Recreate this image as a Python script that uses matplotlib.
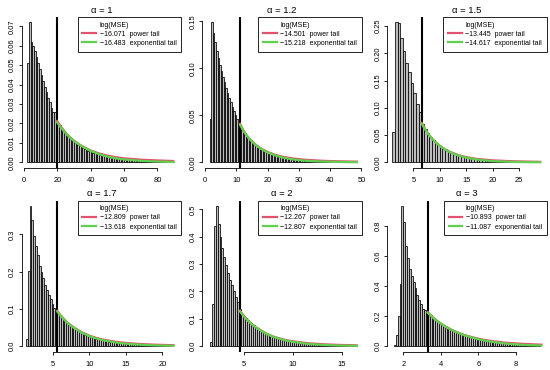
import numpy as np
import matplotlib.pyplot as plt
from matplotlib.lines import Line2D

plt.rcParams['font.family'] = ['Liberation Sans', 'DejaVu Sans']

RED = '#DF536B'
GREEN = '#61D04F'

# ---------------- panel meta ----------------
titles = ['α = 1', 'α = 1.2', 'α = 1.5', 'α = 1.7', 'α = 2', 'α = 3']
mse_power = [-16.071, -14.501, -13.445, -12.809, -12.267, -10.893]
mse_exp = [-16.483, -15.218, -14.617, -13.618, -12.807, -11.087]
cut = [19.8, 11.2, 6.58, 5.64, 4.59, 3.30]      # threshold (vertical line)
brk0 = [2.0, 1.5, 1.0, 1.35, 1.5, 1.5]          # first histogram break
binw = [1.0, 0.5, 0.5, 0.25, 0.2, 0.1]          # bin width

# ---------------- histogram densities ----------------
dens_1 = [0.051, 0.072, 0.062, 0.060, 0.057, 0.054, 0.051, 0.048, 0.045, 0.042,
          0.039, 0.036, 0.033, 0.031, 0.028, 0.026, 0.026, 0.023,
          0.0205, 0.0192, 0.0176, 0.0167, 0.0155, 0.0147, 0.0136, 0.0129, 0.0119, 0.0113,
          0.0104, 0.0099, 0.0091, 0.0087, 0.0080, 0.0076, 0.0070, 0.0067, 0.0061, 0.0058,
          0.0055, 0.0050, 0.0048, 0.0044, 0.0043, 0.0039, 0.0037, 0.0036, 0.0033, 0.0031,
          0.0030, 0.0027, 0.0026, 0.0025, 0.0023, 0.0022, 0.0021, 0.0020, 0.0018, 0.0018,
          0.0017, 0.0016, 0.0015, 0.0015, 0.0014, 0.0013, 0.0013, 0.0012, 0.0011, 0.0011,
          0.0010, 0.0010, 0.0009, 0.0009, 0.0009, 0.0008, 0.0008, 0.0008, 0.0007, 0.0007,
          0.0007, 0.0006, 0.0006, 0.0006, 0.0006, 0.0005, 0.0005, 0.0005, 0.0005, 0.0004]

dens_2 = [0.046, 0.149, 0.138, 0.128, 0.119, 0.111, 0.104, 0.097, 0.091, 0.085,
          0.079, 0.074, 0.069, 0.064, 0.059, 0.055, 0.050, 0.046, 0.042,
          0.038, 0.036, 0.033, 0.031, 0.029, 0.027, 0.025, 0.0235, 0.022, 0.020,
          0.0188, 0.0172, 0.0162, 0.0150, 0.0140, 0.0130, 0.0121, 0.0113, 0.0104, 0.0098,
          0.0091, 0.0085, 0.0079, 0.0073, 0.0069, 0.0064, 0.0060, 0.0056, 0.0052, 0.0049,
          0.0046, 0.0043, 0.0040, 0.0038, 0.0035, 0.0033, 0.0031, 0.0029, 0.0027, 0.0026,
          0.0024, 0.0023, 0.0021, 0.0020, 0.0019, 0.0018, 0.0017, 0.0016, 0.0015, 0.0014,
          0.0013, 0.0013, 0.0012, 0.0011, 0.0011, 0.0010, 0.0010, 0.0009, 0.0009, 0.0008,
          0.0008, 0.0007, 0.0007, 0.0007, 0.0006, 0.0006, 0.0006, 0.0005, 0.0005, 0.0005,
          0.0005, 0.0004, 0.0004, 0.0004, 0.0004]

dens_3 = [0.056, 0.257, 0.255, 0.228, 0.205, 0.183, 0.165, 0.146, 0.128, 0.108, 0.092,
          0.070, 0.061, 0.054, 0.047, 0.042, 0.036, 0.032, 0.028, 0.025, 0.022,
          0.0195, 0.017, 0.015, 0.0135, 0.012, 0.0105, 0.0093, 0.0083, 0.0074, 0.0066,
          0.0059, 0.0053, 0.0047, 0.0042, 0.0038, 0.0034, 0.0031, 0.0028, 0.0025, 0.0023,
          0.0021, 0.0019, 0.0017, 0.0016, 0.0014, 0.0013, 0.0012, 0.0011, 0.0010, 0.0009,
          0.0009, 0.0008, 0.0007, 0.0007, 0.0006]

dens_4 = [0.020, 0.203, 0.376, 0.338, 0.295, 0.268, 0.245, 0.215, 0.198, 0.182,
          0.165, 0.150, 0.138, 0.126, 0.113, 0.103, 0.095,
          0.090, 0.084, 0.079, 0.073, 0.068, 0.064, 0.060, 0.056, 0.052, 0.048,
          0.045, 0.042, 0.039, 0.036, 0.034, 0.031, 0.029, 0.027, 0.025, 0.024,
          0.022, 0.0205, 0.019, 0.018, 0.0167, 0.0155, 0.0145, 0.0135, 0.0126, 0.0118,
          0.0110, 0.0103, 0.0096, 0.0090, 0.0084, 0.0078, 0.0073, 0.0068, 0.0064, 0.0060,
          0.0056, 0.0052, 0.0049, 0.0046, 0.0043, 0.0040, 0.0038, 0.0035, 0.0033, 0.0031,
          0.0029, 0.0027, 0.0026, 0.0024, 0.0023, 0.0021, 0.0020, 0.0019, 0.0018, 0.0017,
          0.0016, 0.0015, 0.0014]

dens_5 = [0.015, 0.154, 0.440, 0.512, 0.445, 0.400, 0.360, 0.325, 0.295, 0.268,
          0.243, 0.222, 0.200, 0.180, 0.160, 0.135,
          0.118, 0.110, 0.102, 0.095, 0.088, 0.082, 0.076, 0.071, 0.066, 0.061,
          0.057, 0.053, 0.049, 0.045, 0.042, 0.039, 0.036, 0.034, 0.031, 0.029,
          0.027, 0.025, 0.023, 0.0215, 0.020, 0.0185, 0.017, 0.016, 0.0148, 0.0137,
          0.0127, 0.0118, 0.0110, 0.0102, 0.0095, 0.0088, 0.0082, 0.0076, 0.0071, 0.0066,
          0.0061, 0.0057, 0.0053, 0.0049, 0.0046, 0.0043, 0.0040, 0.0037, 0.0035, 0.0032,
          0.0030, 0.0028, 0.0026, 0.0024, 0.0023, 0.0021, 0.0020, 0.0018, 0.0017]

dens_6 = [0.008, 0.075, 0.200, 0.415, 0.934, 0.830, 0.670, 0.585, 0.515, 0.470,
          0.430, 0.385, 0.340, 0.310, 0.280, 0.250, 0.240, 0.230,
          0.215, 0.205, 0.190, 0.180, 0.172, 0.162, 0.153, 0.145, 0.136, 0.128,
          0.121, 0.115, 0.109, 0.102, 0.097, 0.091, 0.086, 0.081, 0.077, 0.072,
          0.068, 0.064, 0.061, 0.057, 0.054, 0.051, 0.048, 0.045, 0.043, 0.040,
          0.038, 0.036, 0.034, 0.032, 0.030, 0.028, 0.027, 0.025, 0.024, 0.022,
          0.021, 0.020, 0.019, 0.018, 0.017, 0.016, 0.015, 0.014, 0.013, 0.0125,
          0.012, 0.011, 0.0105, 0.010, 0.0095, 0.009, 0.0085, 0.008, 0.0075, 0.007]

# ---------------- fitted tails (x, power, exponential) ----------------
cx_1 = [19.8, 22, 24, 26, 28, 30, 33, 36, 40, 45, 50, 55, 60, 70, 80, 89.5]
pw_1 = [0.0213, 0.0186, 0.0163, 0.0143, 0.0126, 0.0111, 0.0093, 0.0078, 0.0061, 0.0046, 0.0035, 0.0027, 0.0021, 0.0014, 0.0010, 0.0007]
ex_1 = [0.0206, 0.0181, 0.0160, 0.0141, 0.0125, 0.0110, 0.0092, 0.0076, 0.0059, 0.0042, 0.0030, 0.0021, 0.0015, 0.0008, 0.0004, 0.0002]

cx_2 = [11.2, 12, 13, 14, 15, 16.5, 18, 20, 22.5, 25, 28, 32, 37, 42, 48.5]
pw_2 = [0.0410, 0.0358, 0.0303, 0.0260, 0.0224, 0.0180, 0.0146, 0.0111, 0.0080, 0.0059, 0.0042, 0.0028, 0.0018, 0.0012, 0.0008]
ex_2 = [0.0400, 0.0352, 0.0300, 0.0258, 0.0222, 0.0177, 0.0142, 0.0106, 0.0073, 0.0050, 0.0032, 0.0018, 0.0009, 0.0005, 0.0002]

cx_3 = [6.58, 7, 7.5, 8, 8.5, 9, 10, 11, 12, 13.5, 15, 17, 20, 24, 29]
pw_3 = [0.0725, 0.0650, 0.0570, 0.0500, 0.0442, 0.0390, 0.0305, 0.0240, 0.0190, 0.0134, 0.0097, 0.0064, 0.0037, 0.0020, 0.0010]
ex_3 = [0.0710, 0.0640, 0.0565, 0.0497, 0.0440, 0.0388, 0.0302, 0.0236, 0.0184, 0.0126, 0.0087, 0.0052, 0.0023, 0.0008, 0.0002]

cx_4 = [5.64, 6, 6.5, 7, 7.5, 8, 9, 10, 11, 12, 13.5, 15, 17, 19, 21.5]
pw_4 = [0.095, 0.085, 0.074, 0.064, 0.056, 0.049, 0.037, 0.0285, 0.022, 0.0172, 0.0122, 0.0088, 0.0058, 0.0040, 0.0026]
ex_4 = [0.093, 0.084, 0.073, 0.063, 0.055, 0.048, 0.036, 0.027, 0.0205, 0.0155, 0.0102, 0.0067, 0.0038, 0.0021, 0.0010]

cx_5 = [4.59, 4.8, 5.1, 5.4, 5.8, 6.2, 6.7, 7.3, 8, 9, 10, 11.5, 13, 14.5, 16.5]
pw_5 = [0.130, 0.119, 0.106, 0.094, 0.081, 0.070, 0.058, 0.046, 0.035, 0.0245, 0.0175, 0.011, 0.0072, 0.0049, 0.0031]
ex_5 = [0.127, 0.117, 0.104, 0.093, 0.080, 0.069, 0.057, 0.045, 0.034, 0.023, 0.0155, 0.0085, 0.0047, 0.0026, 0.0012]

cx_6 = [3.3, 3.45, 3.6, 3.8, 4.0, 4.25, 4.5, 4.8, 5.2, 5.6, 6.1, 6.7, 7.4, 8.3, 9.35]
pw_6 = [0.227, 0.208, 0.190, 0.169, 0.151, 0.131, 0.114, 0.096, 0.077, 0.062, 0.047, 0.034, 0.024, 0.016, 0.010]
ex_6 = [0.223, 0.205, 0.188, 0.168, 0.150, 0.130, 0.113, 0.095, 0.075, 0.059, 0.043, 0.029, 0.018, 0.009, 0.004]

# ---------------- axes ----------------
xticks_all = [[0, 20, 40, 60, 80], [0, 10, 20, 30, 40, 50], [5, 10, 15, 20, 25],
              [5, 10, 15, 20], [5, 10, 15], [2, 4, 6, 8]]
yticks_all = [[0, 0.01, 0.02, 0.03, 0.04, 0.05, 0.06, 0.07], [0, 0.05, 0.10, 0.15],
              [0, 0.05, 0.10, 0.15, 0.20, 0.25], [0, 0.1, 0.2, 0.3],
              [0, 0.1, 0.2, 0.3, 0.4, 0.5], [0, 0.2, 0.4, 0.6, 0.8]]
ydec = [2, 2, 2, 1, 1, 1]
xlims = [(-1.5, 94.5), (-0.96, 50.2), (0.0, 30.3), (0.75, 22.6), (0.71, 17.04), (1.13, 9.65)]

dens_all = [dens_1, dens_2, dens_3, dens_4, dens_5, dens_6]
curves = [(cx_1, pw_1, ex_1), (cx_2, pw_2, ex_2), (cx_3, pw_3, ex_3),
          (cx_4, pw_4, ex_4), (cx_5, pw_5, ex_5), (cx_6, pw_6, ex_6)]

W, H = 550.0, 370.0
lefts = [21.5, 202, 387, 21.5, 202, 387]
tops = [16.7, 16.7, 16.7, 200.5, 200.5, 200.5]
pw_px, ph_px = 160.0, 151.3

fig = plt.figure(figsize=(5.5, 3.7), dpi=100)

for i in range(6):
    ax = fig.add_axes([lefts[i] / W, 1 - (tops[i] + ph_px) / H, pw_px / W, ph_px / H])
    d = dens_all[i]
    edges = brk0[i] + binw[i] * np.arange(len(d))
    ax.bar(edges, d, width=binw[i], align='edge', color='#BDBDBD',
           edgecolor='black', linewidth=0.55, zorder=1)
    ax.axvline(cut[i], color='black', lw=1.5, zorder=2)
    cx, pw, ex = curves[i]
    ax.plot(cx, pw, color=RED, lw=1.6, zorder=3)
    ax.plot(cx, ex, color=GREEN, lw=1.6, zorder=4)

    ymax = max(d)
    ax.set_ylim(-0.04 * ymax, 1.04 * ymax)
    ax.set_xlim(*xlims[i])

    for s in ['top', 'right']:
        ax.spines[s].set_visible(False)
    for s in ['left', 'bottom']:
        ax.spines[s].set_linewidth(0.6)
    xt = xticks_all[i]
    yt = yticks_all[i]
    ax.spines['bottom'].set_bounds(xt[0], xt[-1])
    ax.spines['left'].set_bounds(yt[0], yt[-1])
    ax.set_xticks(xt)
    ax.set_xticklabels([str(v) for v in xt])
    ax.set_yticks(yt)
    ax.set_yticklabels([f'{v:.{ydec[i]}f}' for v in yt], rotation=90, va='center')
    ax.tick_params(axis='both', direction='out', length=2.4, width=0.6, labelsize=5.4)
    ax.tick_params(axis='x', pad=4.0)
    ax.tick_params(axis='y', pad=1.5)

    ax.set_title(titles[i], fontsize=6.8, pad=3)

    handles = [Line2D([], [], linestyle='none'),
               Line2D([], [], color=RED, lw=1.6),
               Line2D([], [], color=GREEN, lw=1.6)]
    labels = ['log(MSE)',
              f'{mse_power[i]:.3f}  power tail'.replace('-', '\u2212'),
              f'{mse_exp[i]:.3f}  exponential tail'.replace('-', '\u2212')]
    leg = ax.legend(handles, labels, loc='upper right', fontsize=5.0,
                    borderaxespad=0, fancybox=False, edgecolor='black', framealpha=1,
                    handlelength=2.0, handletextpad=0.5, borderpad=0.7, labelspacing=0.3)
    leg.get_frame().set_linewidth(0.6)

fig.savefig('out.png', dpi=100)
